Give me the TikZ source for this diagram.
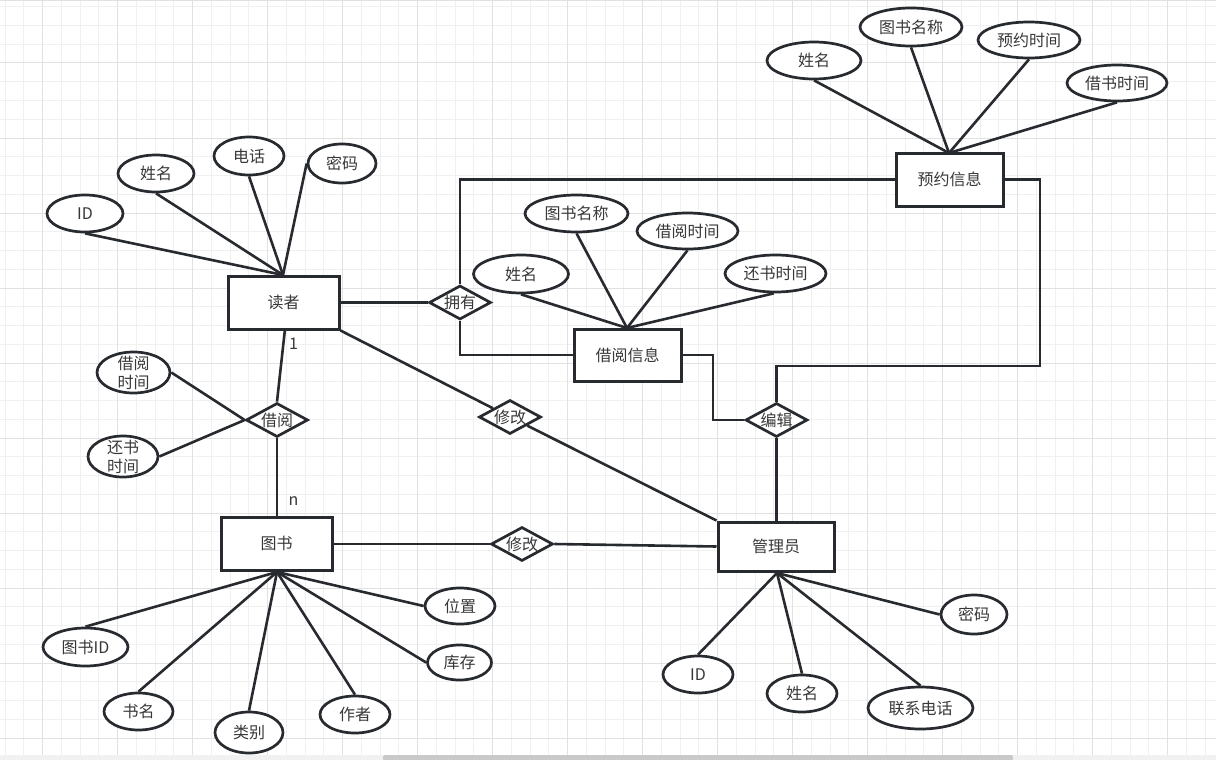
\documentclass[tikz,border=0pt]{standalone}
\usepackage{fontspec}
\setmainfont{Noto Sans CJK SC}
\usetikzlibrary{shapes.geometric}
\definecolor{ln}{HTML}{272B30}
\definecolor{tx}{HTML}{383838}
\definecolor{gminor}{HTML}{F0F0F0}
\definecolor{gmajor}{HTML}{E1E1E1}
\definecolor{sbar}{HTML}{F1F1F1}
\definecolor{sthumb}{HTML}{C9C9C9}
\begin{document}
\begin{tikzpicture}[x=1pt,y=-1pt,
  lbl/.style={font=\fontsize{16}{20}\selectfont, text=tx},
  ent/.style={lbl, draw=ln, line width=3pt, fill=white, rectangle, inner sep=0pt},
  attr/.style={lbl, draw=ln, line width=2.7pt, fill=white, ellipse, inner sep=0pt},
  rel/.style={lbl, draw=ln, line width=2.7pt, fill=white, diamond, shape aspect=2, inner sep=0pt, minimum width=62pt, minimum height=34pt},
  con/.style={draw=ln, line width=2.6pt},
  minorline/.style={draw=gminor, line width=1pt},
  majorline/.style={draw=gmajor, line width=1pt}]
\useasboundingbox (0,0) rectangle (1216,760);
\fill[white] (0,0) rectangle (1216,760);
\begin{scope}
\clip (0,0) rectangle (1216,760);
\foreach \i in {0,...,64} {\draw[minorline] ({5+18.75*\i},0) -- ({5+18.75*\i},760);}
\foreach \j in {0,...,40} {\draw[minorline] (0,{6.75+18.75*\j}) -- (1216,{6.75+18.75*\j});}
\foreach \i in {0,...,15} {\draw[majorline] ({42.5+75*\i},0) -- ({42.5+75*\i},760);}
\foreach \j in {0,...,9} {\draw[majorline] (0,{63+75*\j}) -- (1216,{63+75*\j});}
\draw[draw=gmajor, line width=1.5pt] (0,0.75) -- (1216,0.75);
\fill[sbar] (0,755) rectangle (1216,760);
\fill[sthumb, rounded corners=2pt] (383,755) rectangle (1013,761);
\end{scope}

% entities
\node[ent, minimum width=111pt, minimum height=53pt] (reader) at (283.5,302.5) {读者};
\node[ent, minimum width=111pt, minimum height=53pt] (book) at (276.5,543.5) {图书};
\node[ent, minimum width=116pt, minimum height=49pt] (admin) at (776,546.5) {管理员};
\node[ent, minimum width=107pt, minimum height=52pt] (binfo) at (627.5,355) {借阅信息};
\node[ent, minimum width=107pt, minimum height=53pt] (rinfo) at (949.5,179.5) {预约信息};

% relationships
\node[rel] (own) at (460,302.5) {拥有};
\node[rel] (borrow) at (277,420) {借阅};
\node[rel] (modA) at (510,417) {修改};
\node[rel] (modB) at (522,544) {修改};
\node[rel] (edit) at (776.5,420) {编辑};

% reader attributes
\node[attr, minimum width=76pt, minimum height=37pt] (rID) at (85,213.5) {ID};
\node[attr, minimum width=76pt, minimum height=37pt] (rName) at (156,173.5) {姓名};
\node[attr, minimum width=70pt, minimum height=38pt] (rTel) at (249,156) {电话};
\node[attr, minimum width=68pt, minimum height=39pt] (rPwd) at (342,163.5) {密码};
\coordinate (rc) at (283,275);
\draw[con] (rc) -- (rID.south);
\draw[con] (rc) -- (rName.south);
\draw[con] (rc) -- (rTel.south);
\draw[con] (rc) -- (rPwd.west);

% borrow info attributes
\node[attr, minimum width=95pt, minimum height=38pt] (iName) at (521,274) {姓名};
\node[attr, minimum width=103pt, minimum height=37pt] (iTitle) at (576.5,213.5) {图书名称};
\node[attr, minimum width=101pt, minimum height=36pt] (iBt) at (687.5,231) {借阅时间};
\node[attr, minimum width=101pt, minimum height=37pt] (iRt) at (775.5,273.5) {还书时间};
\coordinate (ic) at (627,328);
\draw[con] (ic) -- (iName.south);
\draw[con] (ic) -- (iTitle.south);
\draw[con] (ic) -- (iBt.south);
\draw[con] (ic) -- (iRt.265);

% reservation attributes
\node[attr, minimum width=94pt, minimum height=37pt] (yName) at (814,60.5) {姓名};
\node[attr, minimum width=102pt, minimum height=38pt] (yTitle) at (911,27) {图书名称};
\node[attr, minimum width=102pt, minimum height=36pt] (yRt) at (1029,40) {预约时间};
\node[attr, minimum width=100pt, minimum height=36pt] (yBt) at (1117,83) {借书时间};
\coordinate (yc) at (949,153);
\draw[con] (yc) -- (yName.south);
\draw[con] (yc) -- (yTitle.south);
\draw[con] (yc) -- (yRt.south);
\draw[con] (yc) -- (yBt.south);

% borrow relation attributes
\node[attr, minimum width=73pt, minimum height=41pt] (bT1) at (133.5,372.5) {};
\node[lbl, align=center, inner sep=0pt] (bT1t) at (133.5,372.5) {借阅\\[-1pt]时间};
\node[attr, minimum width=70pt, minimum height=41pt] (bT2) at (123,456.5) {};
\node[lbl, align=center, inner sep=0pt] (bT2t) at (123,456.5) {还书\\[-1pt]时间};
\draw[con] (bT1.east) -- (borrow.west);
\draw[con] (bT2.east) -- (borrow.west);

% book attributes
\node[attr, minimum width=70pt, minimum height=36pt] (kPos) at (460,606) {位置};
\node[attr, minimum width=64pt, minimum height=35pt] (kStock) at (459.5,662.5) {库存};
\node[attr, minimum width=70pt, minimum height=37pt] (kAuthor) at (355,714.5) {作者};
\node[attr, minimum width=68pt, minimum height=41pt] (kCat) at (249,732.5) {类别};
\node[attr, minimum width=69pt, minimum height=37pt] (kName) at (138.5,711.5) {书名};
\node[attr, minimum width=85pt, minimum height=38pt] (kID) at (85.5,647) {图书ID};
\coordinate (kc) at (277,572);
\draw[con] (kc) -- (kPos.west);
\draw[con] (kc) -- (kStock.west);
\draw[con] (kc) -- (kAuthor.north);
\draw[con] (kc) -- (kCat.north);
\draw[con] (kc) -- (kName.north);
\draw[con] (kc) -- (kID.north);

% admin attributes
\node[attr, minimum width=66pt, minimum height=39pt] (aPwd) at (974,614.5) {密码};
\node[attr, minimum width=70pt, minimum height=37pt] (aID) at (698,674.5) {ID};
\node[attr, minimum width=70pt, minimum height=37pt] (aName) at (802,693.5) {姓名};
\node[attr, minimum width=105pt, minimum height=42pt] (aTel) at (920.5,708) {联系电话};
\coordinate (ac) at (777,573);
\draw[con] (ac) -- (aPwd.west);
\draw[con] (ac) -- (aID.north);
\draw[con] (ac) -- (aName.north);
\draw[con] (ac) -- (aTel.north);

% relationship connectors
\draw[con] (reader.east |- own.west) -- (own.west);
\draw[con] (own.north) |- (rinfo.west);
\draw[con] (own.south) |- (binfo.west);
\draw[con] (binfo.east) -- (713,355) |- (edit.west);
\draw[con] (edit.north) -- (776.5,366) -| (1040,179.5) -- (rinfo.east);
\draw[con] (edit.south) -- (edit.south |- admin.north);
\draw[con] (285,329) -- (borrow.north);
\draw[con] (borrow.south) -- (277,517);
\draw[con] (reader.south east) -- (modA);
\draw[con] (modA) -- (admin.north west);
\draw[con] (book.east |- modB.west) -- (modB.west);
\draw[con] (modB.east) -- (admin.west);
\node[lbl, inner sep=0pt] (one) at (293.5,344) {1};
\node[lbl, inner sep=0pt] (enn) at (293.5,501) {n};
\end{tikzpicture}
\end{document}
